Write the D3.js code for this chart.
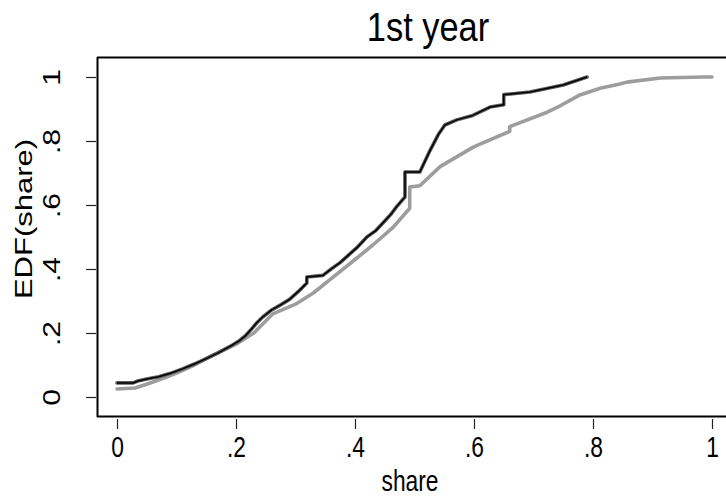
<!DOCTYPE html>
<html lang="en">
<head>
<meta charset="utf-8">
<title>1st year</title>
<script src="https://d3js.org/d3.v7.min.js"></script>
<style>
body { margin: 0; background: #fff; }
svg { display: block; font-family: "Liberation Sans", Arial, sans-serif; }
</style>
</head>
<body>
<div id="chart"></div>
<script>

// EDF of share, black group (ends near .79); repeated share = a jump
var shareA = [0, 0.027, 0.035, 0.05, 0.07, 0.09, 0.11, 0.13, 0.15, 0.17, 0.19, 0.205, 0.215, 0.225, 0.235, 0.245, 0.26, 0.275, 0.29, 0.305, 0.319, 0.319, 0.346, 0.36, 0.375, 0.39, 0.405, 0.42, 0.435, 0.45, 0.46, 0.47, 0.484, 0.484, 0.509, 0.526, 0.54, 0.551, 0.571, 0.598, 0.627, 0.65, 0.65, 0.694, 0.75, 0.79];
var edfA   = [0.044, 0.044, 0.05, 0.056, 0.063, 0.074, 0.088, 0.103, 0.12, 0.138, 0.158, 0.175, 0.19, 0.21, 0.232, 0.25, 0.272, 0.288, 0.305, 0.33, 0.356, 0.375, 0.38, 0.40, 0.42, 0.445, 0.47, 0.50, 0.52, 0.55, 0.57, 0.595, 0.625, 0.703, 0.703, 0.77, 0.82, 0.85, 0.866, 0.88, 0.906, 0.913, 0.945, 0.953, 0.975, 1.0];

// EDF of share, gray group (runs up to 1)
var shareB = [0, 0.03, 0.05, 0.08, 0.1, 0.13, 0.16, 0.2, 0.23, 0.262, 0.3, 0.33, 0.36, 0.397, 0.43, 0.464, 0.492, 0.492, 0.509, 0.543, 0.598, 0.61, 0.66, 0.66, 0.723, 0.745, 0.778, 0.812, 0.845, 0.857, 0.913, 0.985, 1.0];
var edfB   = [0.025, 0.028, 0.04, 0.06, 0.075, 0.1, 0.13, 0.165, 0.2, 0.26, 0.29, 0.325, 0.37, 0.425, 0.475, 0.53, 0.59, 0.656, 0.66, 0.72, 0.78, 0.79, 0.83, 0.845, 0.89, 0.91, 0.944, 0.965, 0.978, 0.984, 0.997, 1.0, 1.0];

var xTicks = [0, 0.2, 0.4, 0.6, 0.8, 1];
var yTicks = [0, 0.2, 0.4, 0.6, 0.8, 1];

var chartTitle = "1st year",
    xTitle = "share",
    yTitle = "EDF(share)";

var W = 726, H = 500;
var squeeze = 0.76;   // text in the picture is narrow, as if squeezed sideways

var svg = d3.select("#chart").append("svg")
    .attr("width", W)
    .attr("height", H);

var x = d3.scaleLinear().domain([0, 1]).range([117, 712]);
var y = d3.scaleLinear().domain([0, 1]).range([397, 77]);

// stata style labels: .2 instead of 0.2
function fmt(d) {
  if (d === 0 || d === 1) return String(d);
  return String(d).replace("0.", ".");
}

var A = shareA.map(function(s, i) { return { s: s, e: edfA[i] }; });
var B = shareB.map(function(s, i) { return { s: s, e: edfB[i] }; });

var line = d3.line().x(function(d) { return x(d.s); }).y(function(d) { return y(d.e); });

// gray group: thin black under a thick light gray line
svg.append("path").datum(B)
    .attr("d", line)
    .attr("fill", "none").attr("stroke", "#000").attr("stroke-width", 1.5);
svg.append("path").datum(B)
    .attr("d", line)
    .attr("fill", "none").attr("stroke", "#9d9d9d").attr("stroke-width", 3.6)
    .attr("stroke-linecap", "round").attr("stroke-linejoin", "round");

// black group: dark gray band with a thin black line on top
svg.append("path").datum(A)
    .attr("d", line)
    .attr("fill", "none").attr("stroke", "#5c5c5c").attr("stroke-width", 3.6)
    .attr("stroke-linecap", "round").attr("stroke-linejoin", "round");
svg.append("path").datum(A)
    .attr("d", line)
    .attr("fill", "none").attr("stroke", "#000").attr("stroke-width", 1.5);

// frame: left, bottom and top
svg.append("line").attr("x1", 97.5).attr("x2", 97.5).attr("y1", 57).attr("y2", 417)
    .attr("stroke", "#000").attr("stroke-width", 2);
svg.append("line").attr("x1", 97).attr("x2", W).attr("y1", 416.5).attr("y2", 416.5)
    .attr("stroke", "#000").attr("stroke-width", 2);
svg.append("line").attr("x1", 97).attr("x2", W).attr("y1", 57.5).attr("y2", 57.5)
    .attr("stroke", "#000").attr("stroke-width", 2);

// x axis
var gx = svg.append("g")
    .attr("transform", "translate(0,419)")
    .call(d3.axisBottom(x).tickValues(xTicks).tickFormat(fmt).tickSize(10));
gx.select(".domain").remove();
gx.selectAll("line").attr("stroke", "#222").attr("stroke-width", 1.2);
gx.selectAll("text")
    .attr("y", 0).attr("dy", 0)
    .attr("transform", "translate(0,38) scale(" + squeeze + ",1)")
    .attr("font-size", 30).attr("fill", "#000")
    .attr("font-family", "Liberation Sans, Arial, sans-serif");

// y axis, labels turned
var gy = svg.append("g")
    .attr("transform", "translate(96,0)")
    .call(d3.axisLeft(y).tickValues(yTicks).tickFormat(fmt).tickSize(10));
gy.select(".domain").remove();
gy.selectAll("line").attr("stroke", "#222").attr("stroke-width", 1.2);
gy.selectAll("text")
    .attr("transform", "translate(-36,0) scale(0.8,1) rotate(-90)")
    .attr("x", 0).attr("y", 0).attr("dy", 0)
    .attr("text-anchor", "middle")
    .attr("font-size", 30).attr("fill", "#000")
    .attr("font-family", "Liberation Sans, Arial, sans-serif");

// titles
svg.append("text")
    .attr("transform", "translate(428,41) scale(0.86,1)")
    .attr("text-anchor", "middle")
    .attr("font-size", 40)
    .text(chartTitle);

svg.append("text")
    .attr("transform", "translate(410,491) scale(" + squeeze + ",1)")
    .attr("text-anchor", "middle")
    .attr("font-size", 30)
    .text(xTitle);

svg.append("text")
    .attr("transform", "translate(32,219) scale(0.75,1) rotate(-90)")
    .attr("text-anchor", "middle")
    .attr("font-size", 31)
    .text(yTitle);

</script>
</body>
</html>
